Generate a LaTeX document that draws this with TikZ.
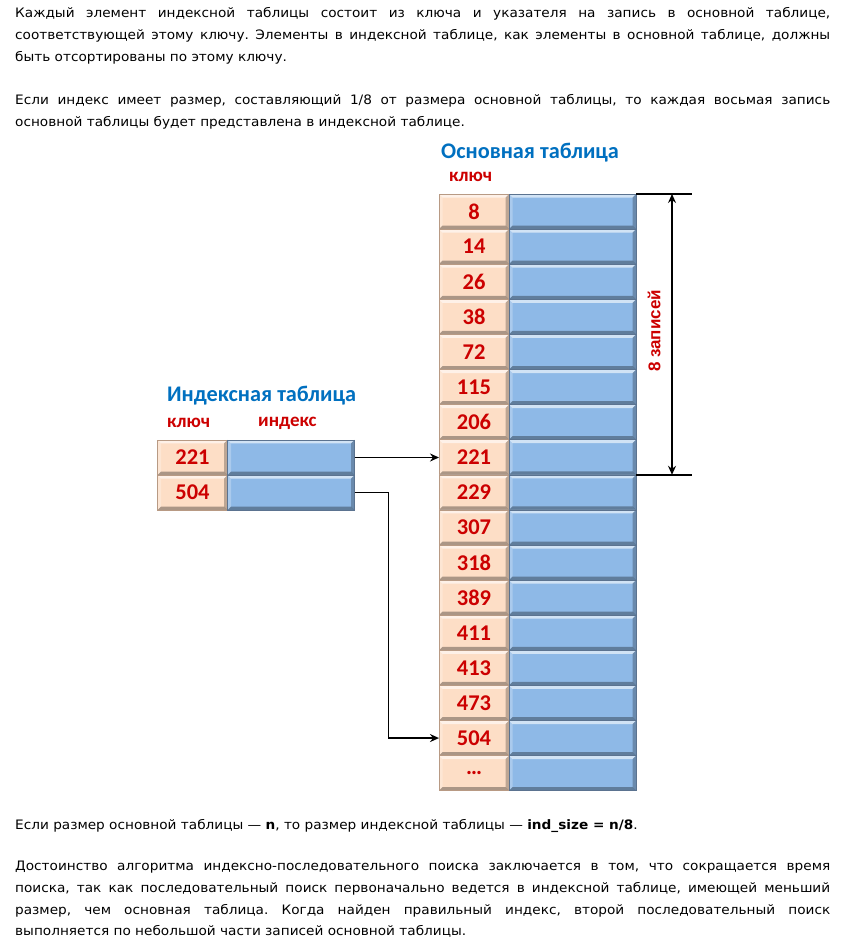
\documentclass[tikz,border=0pt]{standalone}
\usepackage{fontspec}
\setmainfont{DejaVu Sans}[FakeStretch=1.05]
\newfontfamily\calibri{Carlito}
\newfontfamily\arialf{Liberation Sans}
\usetikzlibrary{positioning,arrows.meta}

\definecolor{keyfill}{HTML}{FDDEC6}
\definecolor{keyline}{HTML}{B89A84}
\definecolor{valfill}{HTML}{8EB9E7}
\definecolor{valline}{HTML}{5B7390}
\definecolor{keyred}{HTML}{CC0000}
\definecolor{titleblue}{HTML}{0070C0}

\hyphenpenalty=10000
\exhyphenpenalty=10000
\frenchspacing

\begin{document}
\begin{tikzpicture}[x=1pt, y=-1pt,
    para/.style={anchor=north west, inner sep=0pt, text width=815pt, align=justify,
        font=\fontsize{13}{21.7}\selectfont},
    bevel/.style={path picture={
        \coordinate (bnw) at (path picture bounding box.north west);
        \coordinate (bne) at (path picture bounding box.north east);
        \coordinate (bsw) at (path picture bounding box.south west);
        \coordinate (bse) at (path picture bounding box.south east);
        \fill[white, opacity=0.6] (bnw) -- (bne) -- ([shift={(-3.5pt,-3.5pt)}]bne) -- ([shift={(3.5pt,-3.5pt)}]bnw) -- cycle;
        \fill[white, opacity=0.25] (bnw) -- (bsw) -- ([shift={(3.5pt,3.5pt)}]bsw) -- ([shift={(3.5pt,-3.5pt)}]bnw) -- cycle;
        \fill[black, opacity=0.32] (bsw) -- (bse) -- ([shift={(-3.5pt,3.5pt)}]bse) -- ([shift={(3.5pt,3.5pt)}]bsw) -- cycle;
        \fill[black, opacity=0.25] (bne) -- (bse) -- ([shift={(-3.5pt,3.5pt)}]bse) -- ([shift={(-3.5pt,-3.5pt)}]bne) -- cycle;}},
    keycell/.style={rectangle, draw=keyline, fill=keyfill, bevel, line width=0.6pt,
        minimum width=70pt, minimum height=35.1pt, inner sep=0pt, outer sep=0pt,
        text=keyred, font=\calibri\bfseries\fontsize{22.5}{22.5}\selectfont},
    valcell/.style={rectangle, draw=valline, fill=valfill, bevel, line width=0.6pt,
        minimum width=127pt, minimum height=35.1pt, inner sep=0pt, outer sep=0pt},
    title/.style={text=titleblue, inner sep=0pt, font=\calibri\bfseries\fontsize{22.3}{22.3}\selectfont},
    colhead/.style={text=keyred, inner sep=0pt, font=\calibri\bfseries\fontsize{19}{19}\selectfont},
    ptr/.style={-{Stealth[length=9pt, width=8pt, inset=3pt]}, line width=1.6pt},
    dimline/.style={line width=1.6pt}]

    \useasboundingbox[fill=white] (0,0) rectangle (841,944);

    % Text above
    \node[para] (txt1) at (15,7.5) {Каждый элемент индексной таблицы состоит из ключа и указателя на запись в основной таблице,\linebreak соответствующей этому ключу. Элементы в индексной таблице, как элементы в основной таблице, должны\linebreak быть отсортированы по этому ключу.};
    \node[para] (txt2) at (15,94.5) {Если индекс имеет размер, составляющий 1/8 от размера основной таблицы, то каждая восьмая запись\linebreak основной таблицы будет представлена в индексной таблице.};

    % Main table
    \node[title, anchor=west] (maintitle) at (441,153) {Основная таблица};
    \node[colhead, anchor=west] (mainkey) at (449,177) {ключ};
    \foreach \key [count=\i] in {8,14,26,38,72,115,206,221,229,307,318,389,411,413,473,504,\ldots} {
        \node[keycell] (k\i) at (474,194+35.1*\i-17.55) {\key};
        \node[valcell, right=0pt of k\i] (v\i) {};
    }

    % Index table
    \node[title, anchor=west] (idxtitle) at (167,396) {Индексная таблица};
    \node[colhead, anchor=west] (idxkey) at (167,423) {ключ};
    \node[colhead, anchor=west] (idxptr) at (258,423) {индекс};
    \node[keycell] (ik1) at (192.5,457.5) {221};
    \node[valcell, right=0pt of ik1] (iv1) {};
    \node[keycell, below=0pt of ik1] (ik2) {504};
    \node[valcell, right=0pt of ik2] (iv2) {};

    % Pointers
    \draw[ptr] (iv1.east) -- (iv1.east -| k8.west);
    \draw[ptr] (iv2.east) -- ++(34,0) |- (k16.west);

    % 8 records span
    \draw[dimline] (v1.north east) -- ++(56,0) coordinate (dimtop);
    \draw[dimline] (v8.south east) -- ++(56,0) coordinate (dimbot);
    \draw[dimline, {Stealth[length=9pt, width=8pt, inset=3pt]}-{Stealth[length=9pt, width=8pt, inset=3pt]}]
        ([xshift=-20pt]dimtop) -- ([xshift=-20pt]dimbot);
    \node[rotate=90, text=keyred, inner sep=0pt, font=\arialf\bfseries\fontsize{17}{17}\selectfont] (dimlabel) at (654,331) {8 записей};

    % Text below
    \node[para] (txt3) at (15,819) {Если размер основной таблицы~--- \textbf{n}, то размер индексной таблицы~--- \textbf{ind\_size = n/8}.};
    \node[para] (txt4) at (15,861) {Достоинство алгоритма индексно-последовательного поиска заключается в том, что сокращается время\linebreak поиска, так как последовательный поиск первоначально ведется в индексной таблице, имеющей меньший\linebreak размер, чем основная таблица. Когда найден правильный индекс, второй последовательный поиск\linebreak выполняется по небольшой части записей основной таблицы.};
\end{tikzpicture}
\end{document}
